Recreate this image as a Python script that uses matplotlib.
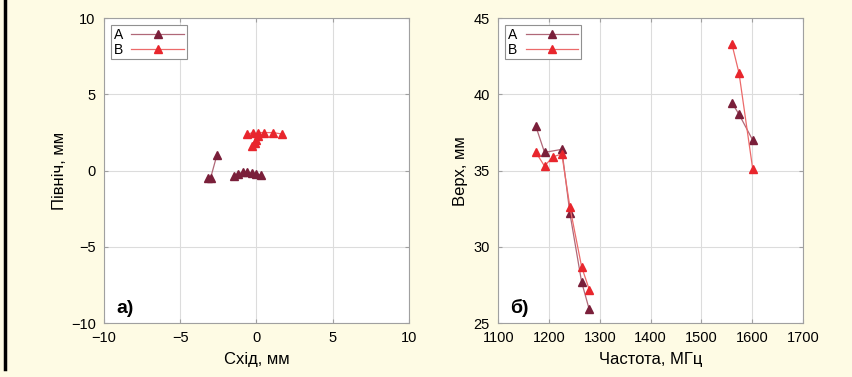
import numpy as np
import matplotlib
matplotlib.use('Agg')
import matplotlib.pyplot as plt
from matplotlib.lines import Line2D

plt.rcParams['font.family'] = ['Liberation Sans Narrow', 'Liberation Sans', 'DejaVu Sans']
plt.rcParams['font.size'] = 11

# Дані: а) положення (схід / північ), мм
east_a = [-3.2, -3.0, -2.6, np.nan, -1.5, -1.2, -0.9, -0.6, -0.3, 0.0, 0.3]
north_a = [-0.45, -0.45, 1.0, np.nan, -0.35, -0.2, -0.1, -0.1, -0.15, -0.2, -0.3]
east_b = [-0.6, -0.2, 0.1, 0.0, -0.1, -0.3, 0.1, 0.5, 1.1, 1.7]
north_b = [2.4, 2.5, 2.3, 2.0, 1.8, 1.6, 2.5, 2.5, 2.5, 2.4]

# Дані: б) висота від частоти
freq_a = [1174, 1191, 1225, 1241, 1264, 1279, np.nan, 1560, 1574, 1601]
up_a = [37.9, 36.2, 36.4, 32.2, 27.7, 25.9, np.nan, 39.45, 38.7, 37.0]
freq_b = [1174, 1191, 1207, 1225, 1241, 1264, 1279, np.nan, 1560, 1574, 1601]
up_b = [36.2, 35.3, 35.9, 36.1, 32.6, 28.7, 27.2, np.nan, 43.3, 41.4, 35.1]

col_a = '#7a1f3a'
col_b = '#e8262d'
bg = '#fefbe4'

fig = plt.figure(figsize=(8.53, 3.77), dpi=100, facecolor=bg)

ax1 = fig.add_axes([0.1219, 0.143, 0.3575, 0.8085])
ax2 = fig.add_axes([0.5842, 0.143, 0.3572, 0.8085])


def style(ax):
    ax.set_facecolor('white')
    ax.grid(True, color='#dcdcdc', linewidth=0.8)
    ax.set_axisbelow(True)
    for s in ax.spines.values():
        s.set_color('#a0a0a0')
        s.set_linewidth(0.8)
    ax.tick_params(direction='in', length=3, color='#a0a0a0', top=True, right=True,
                   labelsize=10.5)
    ax.tick_params(axis='x', pad=6)
    ax.tick_params(axis='y', pad=6)


def draw(ax, xa, ya, xb, yb):
    ax.plot(xa, ya, color='#b06878', linewidth=0.9, marker='^', markersize=5.5,
            markerfacecolor=col_a, markeredgecolor=col_a, label='A')
    ax.plot(xb, yb, color='#ec6a6a', linewidth=0.9, marker='^', markersize=5.5,
            markerfacecolor=col_b, markeredgecolor=col_b, label='B')
    leg = ax.legend(loc='upper left', markerfirst=False, fancybox=False, framealpha=1,
                    edgecolor='#909090', fontsize=10, handlelength=3.8, labelspacing=0.05,
                    borderpad=0.2, handletextpad=0.6, borderaxespad=0.5)
    leg.get_frame().set_linewidth(0.8)


draw(ax1, east_a, north_a, east_b, north_b)
style(ax1)
ax1.set_xlim(-10, 10)
ax1.set_ylim(-10, 10)
ax1.set_xticks([-10, -5, 0, 5, 10])
ax1.set_yticks([-10, -5, 0, 5, 10])
ax1.set_xlabel('Схід, мм', fontsize=12, labelpad=5)
ax1.set_ylabel('Північ, мм', fontsize=12, labelpad=3)
ax1.text(0.04, 0.02, 'а)', transform=ax1.transAxes, fontsize=14, fontweight='bold',
         family='Liberation Sans', va='bottom')

draw(ax2, freq_a, up_a, freq_b, up_b)
style(ax2)
ax2.set_xlim(1100, 1700)
ax2.set_ylim(25, 45)
ax2.set_xticks(range(1100, 1701, 100))
ax2.set_yticks([25, 30, 35, 40, 45])
ax2.set_xlabel('Частота, МГц', fontsize=12, labelpad=5)
ax2.set_ylabel('Верх, мм', fontsize=12, labelpad=4)
ax2.text(0.04, 0.02, 'б)', transform=ax2.transAxes, fontsize=14, fontweight='bold',
         family='Liberation Sans', va='bottom')

# чорна смуга зліва
fig.add_artist(Line2D([0.0062, 0.0062], [0.02, 1.0], color='black', linewidth=2.5,
                      transform=fig.transFigure))

fig.savefig('out.png', dpi=100, facecolor=bg)
